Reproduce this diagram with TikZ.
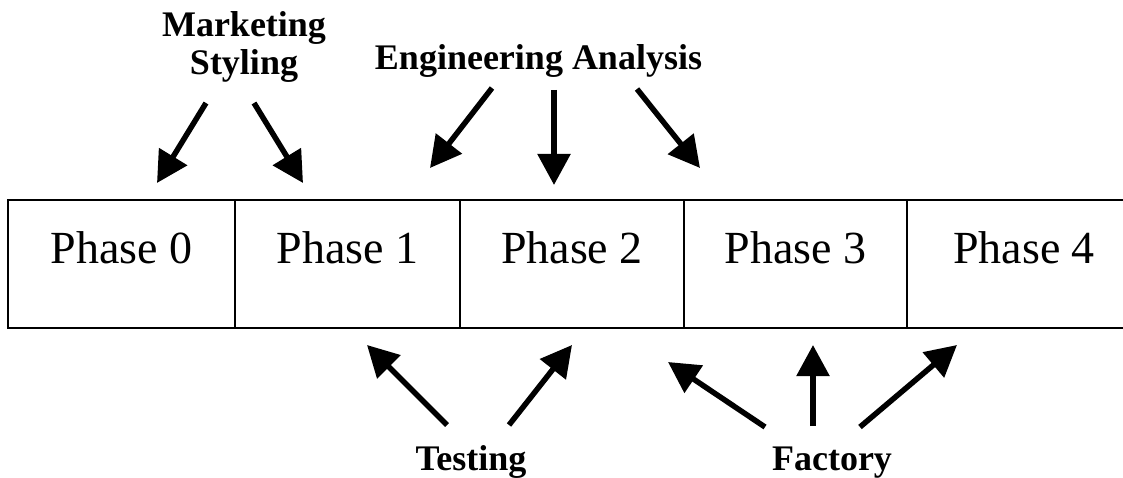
\documentclass[tikz,border=0pt]{standalone}
\usepackage{fontspec}
\setmainfont{Liberation Serif}
\usetikzlibrary{arrows.meta}
\tikzset{
  phasebox/.style={draw, line width=1.6pt, inner sep=0pt, minimum height=128pt,
    text height=63pt, text depth=65pt, font=\fontsize{46}{50}\selectfont},
  grouplabel/.style={font=\bfseries\fontsize{36}{38}\selectfont, align=center, inner sep=0pt},
  bigarrow/.style={line width=5.5pt, -{Triangle[length=31pt,width=32pt]}}
}
\begin{document}
\begin{tikzpicture}[x=1pt,y=-1pt]
\useasboundingbox (0,0) rectangle (1123,478);
\clip (0,0) rectangle (1123,478);

% the five phases in a row
\node[phasebox, minimum width=227pt] (p0) at (121.5,264) {Phase 0};
\node[phasebox, minimum width=225pt] (p1) at (347.5,264) {Phase 1};
\node[phasebox, minimum width=224pt] (p2) at (572,264) {Phase 2};
\node[phasebox, minimum width=223pt] (p3) at (795.5,264) {Phase 3};
\node[phasebox, minimum width=234pt] (p4) at (1024,264) {Phase 4};

% groups feeding the phases
\node[grouplabel, anchor=base] (mkt) at (244,75) {Marketing\\Styling};
\node[grouplabel, anchor=base] (eng) at (538.5,70) {Engineering Analysis};
\node[grouplabel, anchor=base] (tst) at (471,470) {Testing};
\node[grouplabel, anchor=base] (fac) at (832,470) {Factory};

% arrow end points
\coordinate (m1s) at (206,103); \coordinate (m1e) at (157,183);
\coordinate (m2s) at (254,103); \coordinate (m2e) at (303,183);
\coordinate (e1s) at (492,88);  \coordinate (e1e) at (430,168);
\coordinate (e2s) at (554,90);  \coordinate (e2e) at (554,185);
\coordinate (e3s) at (637,89);  \coordinate (e3e) at (700,168);
\coordinate (t1s) at (447,425); \coordinate (t1e) at (367,345);
\coordinate (t2s) at (509,425); \coordinate (t2e) at (572,345);
\coordinate (f1s) at (765,427); \coordinate (f1e) at (668,362);
\coordinate (f2s) at (813,426); \coordinate (f2e) at (813,345);
\coordinate (f3s) at (860,427); \coordinate (f3e) at (957,345);

\draw[bigarrow] (m1s) -- (m1e);
\draw[bigarrow] (m2s) -- (m2e);
\draw[bigarrow] (e1s) -- (e1e);
\draw[bigarrow] (e2s) -- (e2e);
\draw[bigarrow] (e3s) -- (e3e);
\draw[bigarrow] (t1s) -- (t1e);
\draw[bigarrow] (t2s) -- (t2e);
\draw[bigarrow] (f1s) -- (f1e);
\draw[bigarrow] (f2s) -- (f2e);
\draw[bigarrow] (f3s) -- (f3e);
\end{tikzpicture}
\end{document}
